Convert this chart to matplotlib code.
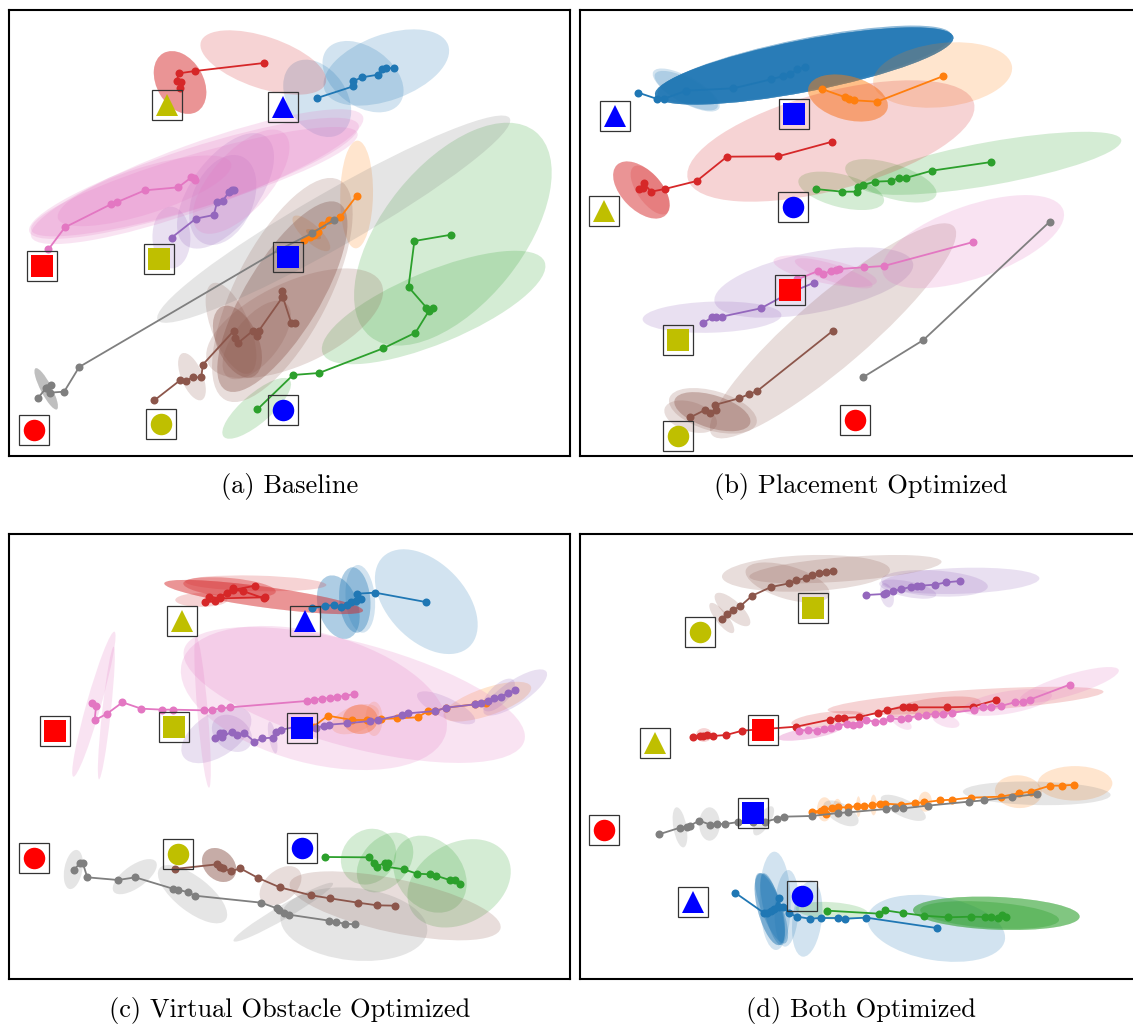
import numpy as np
import matplotlib
matplotlib.use('Agg')
import matplotlib.pyplot as plt
from matplotlib.patches import Ellipse

W, H = 1133, 1024
SX_LEFT, SX_RIGHT, SY = 2.727, 2.81, 3.0

# trajectories, panel a
a_blue = [(865,294),(963,259),(962,244),(987,232),(1031,224),(1043,207),(1052,204),(1075,205)]
a_orange = [(973,587),(928,652),(896,659),(877,675),(868,695),(855,705),(860,698),(845,712),(830,720)]
a_green = [(1231,704),(1130,723),(1114,861),(1163,923),(1181,925),(1170,932),(1133,998),(1045,1045),(870,1119),(799,1125),(702,1228)]
a_red = [(720,189),(532,213),(488,220),(482,242),(494,245),(492,263)]
a_purple = [(468,713),(534,656),(583,645),(592,606),(607,603),(625,575),(632,570),(639,571)]
a_brown = [(421,1201),(492,1140),(506,1143),(526,1132),(549,1132),(553,1094),(637,993),(640,1015),(650,1028),(690,992),(700,1008),(706,992),(770,892),(768,872),(771,890),(794,968),(805,970)]
a_pink = [(132,748),(177,682),(302,613),(320,606),(395,571),(486,562),(522,532),(530,535),(532,540)]
a_gray = [(103,1195),(125,1165),(140,1156),(128,1165),(135,1178),(175,1175),(216,1101),(760,750),(850,700),(912,659)]

# trajectories, panel b
b_blue = [(178,278),(231,297),(251,296),(313,272),(445,265),(551,238),(585,228),(605,222),(625,208),(645,200)]
b_orange = [(1033,229),(849,305),(785,301),(770,296),(760,292),(694,267)]
b_green = [(1170,486),(1003,512),(929,534),(910,534),(888,543),(843,545),(809,555),(796,560),(792,575),(750,575),(676,567)]
b_red = [(723,425),(571,469),(427,470),(342,543),(252,567),(214,575),(193,550),(180,568),(190,565)]
b_purple = [(672,848),(600,880),(522,925),(412,950),(396,950),(385,952),(359,970)]
b_brown = [(725,992),(512,1173),(490,1182),(461,1195),(392,1215),(395,1230),(380,1240),(365,1230),(324,1252)]
b_pink = [(1119,726),(868,798),(811,802),(742,807),(733,811),(718,813),(696,823),(683,813),(625,838)]
b_gray = [(1334,665),(979,1020),(809,1132)]

# trajectories, panel c
c_blue = [(1161,246),(1023,218),(974,221),(985,238),(970,243),(958,245),(945,255),(930,262),(912,255),(885,258),(852,265)]
c_orange = [(855,620),(894,587),(960,600),(1000,600),(1040,597),(1082,595),(1139,592),(1167,573),(1187,573),(1217,563),(1295,553),(1325,548)]
c_green = [(886,1011),(1005,1012),(1020,1028),(1027,1040),(1050,1028),(1057,1030),(1053,1040),(1101,1048),(1137,1061),(1173,1063),(1189,1067),(1226,1080),(1240,1080),(1255,1092)]
c_red = [(696,197),(635,210),(662,213),(720,235),(722,232),(600,235),(571,230),(560,247),(586,244),(600,232),(618,218),(635,205)]
c_purple = [(585,653),(600,640),(608,640),(605,652),(632,635),(645,645),(665,638),(694,665),(714,655),(745,653),(752,635),(765,630),(820,617),(862,623),(883,618),(897,614),(945,610),(1010,603),(1030,600),(1095,585),(1112,580),(1187,573),(1217,563),(1295,553),(1312,550),(1330,543),(1347,535),(1365,530),(1385,520),(1405,510)]
c_brown = [(476,1047),(592,1033),(600,1040),(608,1045),(630,1054),(655,1045),(704,1074),(763,1102),(849,1126),(900,1135),(976,1148),(1029,1156),(1078,1157)]
c_pink = [(250,548),(262,558),(258,601),(292,581),(334,547),(385,566),(443,569),(472,569),(556,571),(579,569),(603,565),(627,562),(836,543),(856,539),(878,536),(899,534),(920,531),(942,527),(964,523)]
c_gray = [(201,1050),(218,1030),(226,1030),(238,1072),(322,1080),(369,1072),(471,1106),(485,1109),(514,1117),(531,1127),(712,1148),(755,1165),(762,1170),(775,1180),(788,1184),(898,1202),(915,1206),(940,1211),(967,1213)]

# trajectories, panel d
d_blue = [(451,1119),(530,1178),(540,1180),(550,1172),(560,1168),(574,1135),(572,1160),(585,1160),(600,1180),(625,1190),(659,1196),(690,1194),(740,1194),(758,1196),(819,1193),(1016,1224)]
d_orange = [(1403,794),(1369,797),(1335,797),(1280,815),(1247,820),(1197,830),(1112,833),(1059,839),(1026,841),(981,847),(955,849),(916,854),(872,851),(856,851),(834,856),(811,859),(793,858),(768,862),(740,862),(722,865),(700,868),(690,872),(665,875),(705,883)]
d_green = [(709,1172),(855,1181),(871,1171),(921,1179),(980,1187),(1048,1192),(1114,1190),(1152,1191),(1170,1192),(1188,1193),(1199,1184),(1212,1191)]
d_red = [(331,650),(352,648),(360,647),(372,645),(387,648),(425,645),(470,632),(622,620),(716,599),(740,594),(755,594),(799,591),(851,578),(878,570),(923,560),(938,560),(952,562),(1044,562),(1117,560),(1184,540)]
d_purple = [(819,225),(867,222),(875,220),(893,214),(915,208),(943,201),(960,199),(972,197),(1011,194),(1043,187),(1083,183)]
d_brown = [(413,296),(428,282),(445,270),(465,258),(498,227),(551,201),(602,190),(621,181),(648,174),(665,165),(685,160),(705,155),(725,153)]
d_pink = [(1390,494),(1278,539),(1258,545),(1235,547),(1197,558),(1170,561),(1147,561),(1120,570),(1060,578),(1033,582),(1013,581),(985,585),(965,587),(935,594),(916,598),(886,595),(865,603),(843,606),(817,599),(797,613),(780,614),(763,612),(740,617),(720,623),(700,627),(680,632),(655,630),(630,632)]
d_gray = [(236,943),(295,923),(315,920),(323,917),(349,902),(380,914),(398,912),(422,912),(459,906),(500,907),(535,905),(567,896),(586,890),(665,888),(740,879),(768,877),(875,867),(900,863),(922,865),(991,857),(1106,845),(1149,841),(1227,831),(1298,822)]

# covariance ellipses: major axis end x1,y1,x2,y2, minor width, how many stacked
a_blue_e = [(885,270,1222,135,190,1),(890,150,1090,310,170,1),(800,190,930,400,170,1)]
a_orange_e = [(975,422,970,745,95,1),(800,650,898,750,50,1),(835,690,875,715,20,2)]
a_green_e = [(1010,1010,1460,395,405,1),(880,1060,1485,785,210,1),(610,1310,790,1140,85,1)]
a_red_e = [(445,160,537,335,135,3),(548,125,888,250,150,1)]
a_purple_e = [(465,620,470,805,110,1),(725,410,505,735,195,1),(660,470,555,730,175,1)]
a_brown_e = [(925,540,615,1200,270,1),(925,610,615,1170,215,2),(1040,850,567,1090,240,1),(580,850,680,1120,110,1),(605,920,690,1130,120,2),(780,910,620,1130,130,1),(497,1060,550,1200,62,1)]
a_pink_e = [(85,710,990,350,190,1),(80,695,978,375,175,1),(85,690,975,400,155,1),(158,655,630,490,135,1),(775,400,540,690,170,1)]
a_gray_e = [(430,960,1390,355,160,1),(97,1105,155,1228,32,3)]

b_blue_e = [(225,285,1063,111,150,10),(232,282,1058,105,150,3),(225,222,400,322,70,1),(220,215,405,325,75,1)]
b_orange_e = [(838,250,1228,200,185,1),(656,262,878,326,126,3)]
b_green_e = [(805,560,1535,420,125,1),(760,500,1015,585,100,1),(628,540,868,605,95,1)]
b_red_e = [(317,537,1121,309,284,1),(118,495,255,645,115,3),(165,500,258,640,75,1)]
b_purple_e = [(392,905,950,790,175,1),(190,958,580,945,90,1)]
b_brown_e = [(1065,680,385,1305,205,1),(265,1195,510,1270,115,1),(280,1200,492,1270,95,2),(252,1225,398,1275,85,1)]
b_pink_e = [(865,820,1372,630,210,1),(558,782,848,845,70,1),(618,782,836,858,50,1)]
b_gray_e = []

c_blue_e = [(1045,110,1280,380,225,1),(895,168,950,355,115,2),(960,142,975,338,90,2),(975,135,990,338,85,1)]
c_orange_e = [(905,625,1032,570,75,1),(935,598,1030,598,85,3),(1210,590,1448,500,80,1),(1020,545,1020,648,50,1)]
c_green_e = [(950,1075,1060,945,150,1),(990,1105,1110,950,135,1),(1100,965,1245,1160,190,1),(1122,1172,1382,1008,232,1)]
c_red_e = [(448,190,990,272,60,3),(500,190,752,215,55,2),(505,185,890,195,45,1),(478,240,620,240,40,1)]
c_purple_e = [(500,710,680,580,125,1),(585,600,680,680,95,1),(735,605,752,700,22,1),(1138,522,1295,605,58,1),(1320,580,1490,455,70,1),(1320,570,1400,480,55,1)]
c_brown_e = [(560,995,635,1075,85,3),(715,1145,815,1050,90,1),(790,1090,1365,1225,155,1)]
c_pink_e = [(496,428,1216,640,377,1),(502,388,1430,662,302,1),(200,770,312,335,42,1),(270,778,310,380,25,1),(570,803,535,350,30,1)]
c_gray_e = [(210,990,190,1107,52,1),(310,1115,425,1025,65,1),(435,1045,615,1200,100,1),(637,1263,908,1090,40,1),(765,1190,1165,1235,210,1)]

d_blue_e = [(822,1190,1208,1260,185,1),(560,995,565,1290,90,1),(520,1060,575,1275,70,3),(515,1060,590,1270,60,2),(530,1060,580,1275,50,2),(600,1050,590,1280,70,1),(665,1082,640,1310,85,1)]
d_orange_e = [(1300,790,1510,790,100,1),(1180,810,1312,820,95,1),(965,845,1003,845,58,1),(680,868,722,868,70,1),(725,865,750,865,55,1),(790,860,803,860,60,1),(830,855,848,855,60,1)]
d_green_e = [(950,1170,1418,1190,95,4),(970,1170,1360,1200,75,2),(620,1165,823,1180,50,1)]
d_red_e = [(710,570,1485,515,62,1),(880,580,1140,545,55,1),(608,610,815,585,42,1),(340,645,385,645,40,1)]
d_purple_e = [(862,190,1305,175,75,1),(860,180,1160,200,75,1),(855,190,1015,225,45,1),(868,190,885,262,38,1)]
d_brown_e = [(413,170,885,150,105,1),(480,150,715,225,95,1),(490,170,1030,125,70,1),(395,222,490,315,50,1),(380,250,445,338,35,1)]
d_pink_e = [(1250,540,1528,450,60,1),(1090,570,1340,525,65,1),(570,655,745,625,32,2),(890,590,945,625,30,1),(1005,590,1080,615,35,1)]
d_gray_e = [(1090,815,1505,825,68,1),(285,862,305,982,38,1),(378,862,378,962,60,1),(860,832,985,895,50,1),(700,850,795,910,55,1),(505,945,555,860,38,1)]

# robot markers: shape, colour, x, y
a_goals = [('s','r',114,800),('^','y',455,315),('^','b',773,322),('s','y',434,778),('s','b',787,771),('o','r',92,1291),('o','y',440,1274),('o','b',771,1230)]
b_goals = [('^','b',112,350),('s','b',616,342),('^','y',83,634),('o','b',612,621),('s','r',606,872),('s','y',289,1020),('o','r',788,1260),('o','y',289,1310)]
c_goals = [('^','y',496,305),('^','b',831,303),('s','r',151,633),('s','y',474,623),('s','b',823,625),('o','r',92,1015),('o','y',486,1002),('o','b',825,984)]
d_goals = [('o','y',353,338),('s','y',669,264),('^','y',224,671),('s','r',530,630),('s','b',502,880),('o','r',83,932),('^','b',331,1148),('o','b',639,1130)]

captions = ['(a) Baseline', '(b) Placement Optimized', '(c) Virtual Obstacle Optimized', '(d) Both Optimized']
colors = ['tab:blue', 'tab:orange', 'tab:green', 'tab:red', 'tab:purple', 'tab:brown', 'tab:pink', 'tab:gray']

fig = plt.figure(figsize=(W / 100, H / 100), dpi=100)
PT = 0.72  # points per pixel at dpi 100


def draw_panel(box, crop, sx, caption, tracks, ells, goals):
    left, top, right, bottom = box
    ox, oy = crop
    ax = fig.add_axes([left / W, 1 - bottom / H, (right - left) / W, (bottom - top) / H])
    ax.set_xlim(left, right)
    ax.set_ylim(bottom, top)
    ax.set_xticks([])
    ax.set_yticks([])
    for s in ax.spines.values():
        s.set_linewidth(1.5)

    for col, es in zip(colors, ells):
        for x1, y1, x2, y2, w, n in es:
            x1, x2 = ox + x1 / sx, ox + x2 / sx
            y1, y2 = oy + y1 / SY, oy + y2 / SY
            ang = np.degrees(np.arctan2(y2 - y1, x2 - x1))
            length = np.hypot(x2 - x1, y2 - y1)
            for i in range(n):
                ax.add_patch(Ellipse(((x1 + x2) / 2, (y1 + y2) / 2), length, w / 2.9, angle=ang,
                                     facecolor=col, edgecolor='none', alpha=0.2))

    for col, tr in zip(colors, tracks):
        tr = np.array(tr, dtype=float)
        ax.plot(ox + tr[:, 0] / sx, oy + tr[:, 1] / SY, '-o', color=col, lw=1.8 * PT, ms=8 * PT, mew=0)

    for shape, col, x, y in goals:
        px, py = ox + x / sx - 0.2, oy + y / SY - 0.2
        ax.plot(px, py, marker=shape, color=col, ms=21.5 * PT, mew=0, ls='none')
        ax.plot(px, py, marker='s', mfc='none', mec='#333333', ms=30.5 * PT, mew=0.9, ls='none')

    ax.text((left + right) / 2, bottom + 31, caption, ha='center', va='center',
            family='cmr10', fontsize=19, clip_on=False)


draw_panel((9, 10, 570, 456), (0, 0), SX_LEFT, captions[0],
           [a_blue, a_orange, a_green, a_red, a_purple, a_brown, a_pink, a_gray],
           [a_blue_e, a_orange_e, a_green_e, a_red_e, a_purple_e, a_brown_e, a_pink_e, a_gray_e], a_goals)
draw_panel((580, 10, 1141, 456), (575, 0), SX_RIGHT, captions[1],
           [b_blue, b_orange, b_green, b_red, b_purple, b_brown, b_pink, b_gray],
           [b_blue_e, b_orange_e, b_green_e, b_red_e, b_purple_e, b_brown_e, b_pink_e, b_gray_e], b_goals)
draw_panel((9, 534, 570, 979), (0, 520), SX_LEFT, captions[2],
           [c_blue, c_orange, c_green, c_red, c_purple, c_brown, c_pink, c_gray],
           [c_blue_e, c_orange_e, c_green_e, c_red_e, c_purple_e, c_brown_e, c_pink_e, c_gray_e], c_goals)
draw_panel((580, 534, 1141, 979), (575, 520), SX_RIGHT, captions[3],
           [d_blue, d_orange, d_green, d_red, d_purple, d_brown, d_pink, d_gray],
           [d_blue_e, d_orange_e, d_green_e, d_red_e, d_purple_e, d_brown_e, d_pink_e, d_gray_e], d_goals)

fig.savefig('out.png', dpi=100)
